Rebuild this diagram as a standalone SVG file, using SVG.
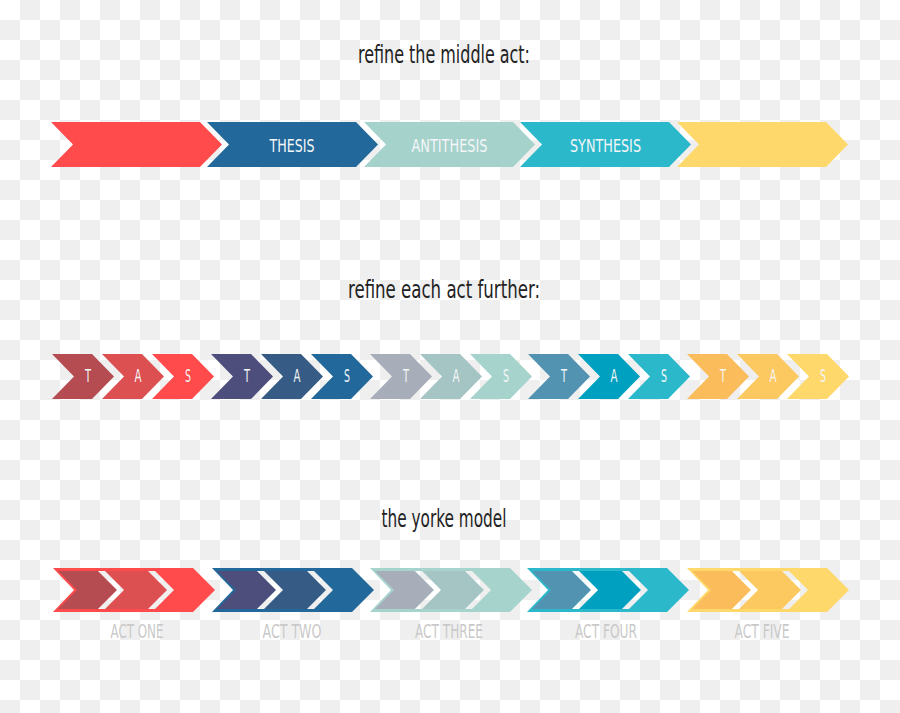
<svg xmlns="http://www.w3.org/2000/svg" xmlns:xlink="http://www.w3.org/1999/xlink" width="900" height="713" viewBox="0 0 900 713">
<style>
.title{font-family:'Liberation Sans Narrow','DejaVu Sans Condensed','Liberation Sans',sans-serif;font-size:24px;fill:#232323;text-anchor:middle}
.lab{font-family:'Liberation Sans Narrow','DejaVu Sans Condensed','Liberation Sans',sans-serif;font-size:18px;fill:#f4f6f8;text-anchor:middle}
.let{font-family:'Liberation Sans Narrow','DejaVu Sans Condensed','Liberation Sans',sans-serif;font-size:18px;fill:#f4f6f8;text-anchor:middle}
.act{font-family:'Liberation Sans Narrow','DejaVu Sans Condensed','Liberation Sans',sans-serif;font-size:19px;fill:#c9c9c9;text-anchor:middle}
.gap{fill:url(#bg)}
</style>
<defs>
<pattern id="bg" patternUnits="userSpaceOnUse" x="0" y="0" width="40" height="40">
<rect width="40" height="40" fill="#ffffff"/>
<rect x="20" y="0" width="20" height="20" fill="#efefef"/>
<rect x="0" y="20" width="20" height="20" fill="#efefef"/>
</pattern>
<polygon id="c1" points="0,0 149,0 171,22.5 149,45 0,45 22,22.5"/>
<polygon id="c2" points="0,0 40,0 62,22.5 40,45 0,45 22,22.5"/>
<polygon id="c3o" points="0,0 140,0 162,22 140,44 0,44 21,22"/>
<polygon id="c3t" points="5,3 45,3 64,22 45,41 5,41 24,22"/>
<polygon id="c3a" points="52,3 95,3 114,22 95,41 52,41 71,22"/>
</defs>
<rect width="900" height="713" fill="url(#bg)"/>

<g id="titles">
<text class="title" x="444" y="63" textLength="172" lengthAdjust="spacingAndGlyphs">refine the middle act:</text>
<text class="title" x="444" y="298" textLength="192" lengthAdjust="spacingAndGlyphs">refine each act further:</text>
<text class="title" x="444" y="527" textLength="125" lengthAdjust="spacingAndGlyphs">the yorke model</text>
</g>

<g id="row1">
<g id="r1-act1"><use xlink:href="#c1" transform="translate(51,122)" fill="#ff4b4b"/></g>
<g id="r1-thesis"><use xlink:href="#c1" transform="translate(207,122)" fill="#22689a"/><text class="lab" x="292" y="152" textLength="45" lengthAdjust="spacingAndGlyphs">THESIS</text></g>
<g id="r1-antithesis"><use xlink:href="#c1" transform="translate(364,122)" fill="#a6d2cc"/><text class="lab" x="449.5" y="152" textLength="76" lengthAdjust="spacingAndGlyphs">ANTITHESIS</text></g>
<g id="r1-synthesis"><use xlink:href="#c1" transform="translate(520,122)" fill="#2cb8cb"/><text class="lab" x="605.5" y="152" textLength="71" lengthAdjust="spacingAndGlyphs">SYNTHESIS</text></g>
<g id="r1-act5"><use xlink:href="#c1" transform="translate(677,122)" fill="#fed86a"/></g>
</g>

<g id="row2">
<g id="r2-g1">
<use xlink:href="#c2" transform="translate(52,354)" fill="#b54c52"/>
<use xlink:href="#c2" transform="translate(102,354)" fill="#dc5052"/>
<use xlink:href="#c2" transform="translate(152,354)" fill="#ff4b4b"/>
<text class="let" x="88" y="382" textLength="6" lengthAdjust="spacingAndGlyphs">T</text><text class="let" x="138" y="382" textLength="7" lengthAdjust="spacingAndGlyphs">A</text><text class="let" x="188" y="382" textLength="6" lengthAdjust="spacingAndGlyphs">S</text>
</g>
<g id="r2-g2">
<use xlink:href="#c2" transform="translate(211,354)" fill="#4d4e7c"/>
<use xlink:href="#c2" transform="translate(261,354)" fill="#365c85"/>
<use xlink:href="#c2" transform="translate(311,354)" fill="#22689a"/>
<text class="let" x="247" y="382" textLength="6" lengthAdjust="spacingAndGlyphs">T</text><text class="let" x="297" y="382" textLength="7" lengthAdjust="spacingAndGlyphs">A</text><text class="let" x="347" y="382" textLength="6" lengthAdjust="spacingAndGlyphs">S</text>
</g>
<g id="r2-g3">
<use xlink:href="#c2" transform="translate(370,354)" fill="#a8aeb9"/>
<use xlink:href="#c2" transform="translate(420,354)" fill="#a5c4c4"/>
<use xlink:href="#c2" transform="translate(470,354)" fill="#a6d3cc"/>
<text class="let" x="406" y="382" textLength="6" lengthAdjust="spacingAndGlyphs">T</text><text class="let" x="456" y="382" textLength="7" lengthAdjust="spacingAndGlyphs">A</text><text class="let" x="506" y="382" textLength="6" lengthAdjust="spacingAndGlyphs">S</text>
</g>
<g id="r2-g4">
<use xlink:href="#c2" transform="translate(528,354)" fill="#5293b1"/>
<use xlink:href="#c2" transform="translate(578,354)" fill="#00a1c0"/>
<use xlink:href="#c2" transform="translate(628,354)" fill="#2cb8cb"/>
<text class="let" x="564" y="382" textLength="6" lengthAdjust="spacingAndGlyphs">T</text><text class="let" x="614" y="382" textLength="7" lengthAdjust="spacingAndGlyphs">A</text><text class="let" x="664" y="382" textLength="6" lengthAdjust="spacingAndGlyphs">S</text>
</g>
<g id="r2-g5">
<use xlink:href="#c2" transform="translate(687,354)" fill="#fbbd5c"/>
<use xlink:href="#c2" transform="translate(737,354)" fill="#fcc860"/>
<use xlink:href="#c2" transform="translate(787,354)" fill="#fed86a"/>
<text class="let" x="723" y="382" textLength="6" lengthAdjust="spacingAndGlyphs">T</text><text class="let" x="773" y="382" textLength="7" lengthAdjust="spacingAndGlyphs">A</text><text class="let" x="823" y="382" textLength="6" lengthAdjust="spacingAndGlyphs">S</text>
</g>
</g>

<g id="row3">
<g id="r3-act1">
<use xlink:href="#c3o" transform="translate(53,568)" fill="#ff4b4b"/>
<use xlink:href="#c3t" transform="translate(53,568)" fill="#b54c52"/>
<use xlink:href="#c3a" transform="translate(53,568)" fill="#dc5052"/>
<path class="gap" d="M98,571H105L124,590L105,609H98L117,590Z M148,571H155L174,590L155,609H148L167,590Z"/>
<text class="act" x="137" y="638" textLength="53" lengthAdjust="spacingAndGlyphs">ACT ONE</text>
</g>
<g id="r3-act2">
<use xlink:href="#c3o" transform="translate(212,568)" fill="#22689a"/>
<use xlink:href="#c3t" transform="translate(212,568)" fill="#4d4e7c"/>
<use xlink:href="#c3a" transform="translate(212,568)" fill="#365c85"/>
<path class="gap" d="M257,571H264L283,590L264,609H257L276,590Z M307,571H314L333,590L314,609H307L326,590Z"/>
<text class="act" x="292" y="638" textLength="59" lengthAdjust="spacingAndGlyphs">ACT TWO</text>
</g>
<g id="r3-act3">
<use xlink:href="#c3o" transform="translate(370,568)" fill="#a6d3cc"/>
<use xlink:href="#c3t" transform="translate(370,568)" fill="#a8aeb9"/>
<use xlink:href="#c3a" transform="translate(370,568)" fill="#a5c4c4"/>
<path class="gap" d="M415,571H422L441,590L422,609H415L434,590Z M465,571H472L491,590L472,609H465L484,590Z"/>
<text class="act" x="449" y="638" textLength="68" lengthAdjust="spacingAndGlyphs">ACT THREE</text>
</g>
<g id="r3-act4">
<use xlink:href="#c3o" transform="translate(527,568)" fill="#2cb8cb"/>
<use xlink:href="#c3t" transform="translate(527,568)" fill="#5293b1"/>
<use xlink:href="#c3a" transform="translate(527,568)" fill="#00a1c0"/>
<path class="gap" d="M572,571H579L598,590L579,609H572L591,590Z M622,571H629L648,590L629,609H622L641,590Z"/>
<text class="act" x="606" y="638" textLength="62" lengthAdjust="spacingAndGlyphs">ACT FOUR</text>
</g>
<g id="r3-act5">
<use xlink:href="#c3o" transform="translate(687,568)" fill="#fed86a"/>
<use xlink:href="#c3t" transform="translate(687,568)" fill="#fbbd5c"/>
<use xlink:href="#c3a" transform="translate(687,568)" fill="#fcc860"/>
<path class="gap" d="M732,571H739L758,590L739,609H732L751,590Z M782,571H789L808,590L789,609H782L801,590Z"/>
<text class="act" x="762" y="638" textLength="55" lengthAdjust="spacingAndGlyphs">ACT FIVE</text>
</g>
</g>
</svg>
